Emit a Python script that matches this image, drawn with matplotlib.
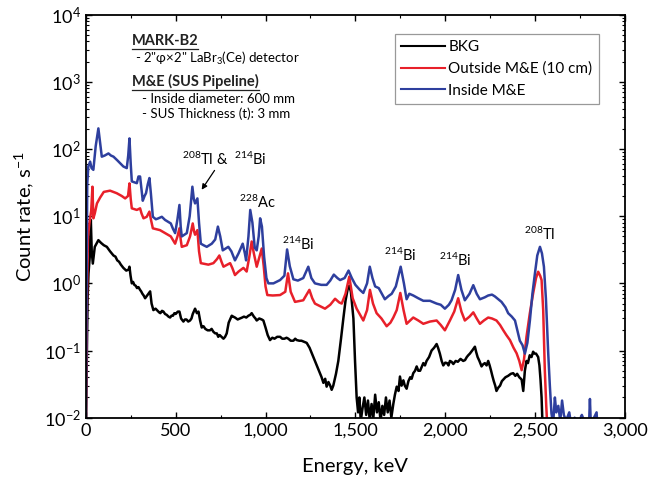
import matplotlib
matplotlib.use("Agg")
import matplotlib.pyplot as plt
from matplotlib.lines import Line2D
from matplotlib.patches import FancyArrowPatch
from matplotlib.ticker import MultipleLocator, LogLocator, NullFormatter

# ----------------------------
# Style
# ----------------------------
FONT = ["Lato", "DejaVu Sans"]
plt.rcParams["font.family"] = FONT
plt.rcParams["mathtext.fontset"] = "custom"
plt.rcParams["mathtext.rm"] = "Lato"
plt.rcParams["mathtext.it"] = "Lato:italic"
plt.rcParams["mathtext.bf"] = "Lato:bold"

C_BKG = "black"
C_OUT = "#e8202a"
C_IN = "#2e3f9e"

# ----------------------------
# Data
# ----------------------------
bkg_e = [0, 5, 10, 15, 22, 28, 33, 39, 50, 70, 85, 100, 117, 135, 154, 165, 175, 185, 195, 209,
         225, 238, 243, 249, 256, 263, 270, 278, 285, 293, 302, 308, 315, 322, 330, 338, 345, 358,
         366, 376, 388, 400, 408, 415, 424, 432, 441, 450, 460, 469, 477, 485, 493, 500, 512, 521,
         530, 543, 552, 560, 570, 580, 588, 595, 608, 618, 627, 636, 645, 655, 665, 678, 691, 700,
         710, 720, 729, 737, 745, 755, 766, 775, 784, 795, 805, 812, 820, 830, 845, 858, 870, 880,
         893, 905, 915, 923, 935, 944, 951, 965, 979, 988, 1000, 1012, 1025, 1038, 1050, 1065,
         1081, 1093, 1105, 1117, 1127, 1140, 1155, 1165, 1174, 1188, 1200, 1215, 1229, 1245, 1266,
         1285, 1303, 1312, 1322, 1332, 1340, 1350, 1360, 1368, 1377, 1392, 1405, 1420, 1433, 1445,
         1458, 1466, 1475, 1489, 1498, 1507, 1515, 1522, 1530, 1540, 1550, 1560, 1570, 1580, 1590,
         1600, 1610, 1620, 1630, 1640, 1650, 1660, 1670, 1680, 1690, 1700, 1711, 1720, 1730, 1740,
         1748, 1757, 1767, 1775, 1785, 1795, 1805, 1813, 1822, 1832, 1841, 1850, 1860, 1870, 1878,
         1887, 1896, 1910, 1924, 1938, 1952, 1960, 1970, 1980, 1989, 2000, 2010, 2018, 2026, 2035,
         2045, 2058, 2070, 2085, 2100, 2110, 2120, 2128, 2137, 2150, 2165, 2172, 2180, 2190, 2202,
         2210, 2220, 2230, 2239, 2247, 2255, 2262, 2270, 2278, 2285, 2295, 2305, 2315, 2323, 2335,
         2350, 2365, 2378, 2390, 2400, 2412, 2425, 2434, 2443, 2452, 2460, 2470, 2480, 2489, 2497,
         2505, 2511, 2517, 2524, 2530, 2536, 2541]
bkg_v = [0.005, 0.05, 0.6, 1.41, 2.5, 8.8, 3.0, 1.97, 3.5, 4.4, 4.0, 3.7, 3.5, 3.0, 2.6, 2.5, 2.2,
         2.1, 1.9, 1.7, 1.55, 1.6, 1.77, 1.3, 1.0, 1.05, 0.95, 0.92, 0.85, 0.88, 0.8, 0.76, 0.7,
         0.66, 0.6, 0.64, 0.68, 0.76, 0.5, 0.4, 0.42, 0.39, 0.37, 0.36, 0.39, 0.38, 0.35, 0.34,
         0.32, 0.31, 0.33, 0.33, 0.36, 0.35, 0.38, 0.38, 0.3, 0.27, 0.29, 0.29, 0.27, 0.28, 0.3,
         0.35, 0.42, 0.36, 0.38, 0.28, 0.22, 0.23, 0.21, 0.2, 0.2, 0.21, 0.19, 0.18, 0.18, 0.16,
         0.17, 0.16, 0.15, 0.16, 0.18, 0.26, 0.3, 0.33, 0.32, 0.31, 0.29, 0.3, 0.31, 0.32, 0.31,
         0.33, 0.34, 0.36, 0.32, 0.3, 0.28, 0.3, 0.29, 0.28, 0.22, 0.17, 0.143, 0.155, 0.15, 0.16,
         0.16, 0.15, 0.15, 0.155, 0.15, 0.14, 0.14, 0.15, 0.143, 0.14, 0.14, 0.135, 0.13, 0.11,
         0.08, 0.06, 0.046, 0.04, 0.033, 0.038, 0.029, 0.034, 0.03, 0.026, 0.03, 0.045, 0.07, 0.15,
         0.3, 0.55, 0.85, 0.92, 0.75, 0.3, 0.07, 0.02, 0.012, 0.02, 0.009, 0.014, 0.02, 0.011,
         0.018, 0.009, 0.016, 0.01, 0.022, 0.012, 0.017, 0.009, 0.015, 0.011, 0.02, 0.012, 0.018,
         0.01, 0.016, 0.022, 0.029, 0.025, 0.041, 0.03, 0.036, 0.03, 0.027, 0.035, 0.04, 0.038,
         0.046, 0.05, 0.058, 0.05, 0.05, 0.058, 0.065, 0.06, 0.07, 0.08, 0.1, 0.11, 0.125, 0.11,
         0.09, 0.07, 0.06, 0.066, 0.065, 0.06, 0.07, 0.068, 0.063, 0.07, 0.068, 0.075, 0.07, 0.072,
         0.08, 0.085, 0.09, 0.1, 0.114, 0.095, 0.08, 0.07, 0.058, 0.062, 0.065, 0.06, 0.07, 0.06,
         0.05, 0.042, 0.035, 0.03, 0.025, 0.028, 0.03, 0.035, 0.037, 0.04, 0.042, 0.045, 0.046,
         0.042, 0.045, 0.04, 0.037, 0.025, 0.05, 0.07, 0.065, 0.085, 0.08, 0.096, 0.09, 0.09, 0.085,
         0.08, 0.06, 0.037, 0.02, 0.008]

out_e = [0, 6, 12, 20, 30, 37, 42, 50, 62, 80, 100, 135, 172, 200, 219, 235, 243, 250, 256, 284,
         302, 310, 321, 339, 354, 362, 373, 413, 441, 473, 485, 497, 510, 521, 528, 534, 562, 580,
         595, 602, 608, 621, 630, 640, 682, 710, 730, 743, 755, 766, 803, 815, 830, 850, 877, 895,
         910, 923, 935, 951, 965, 979, 990, 1000, 1010, 1040, 1081, 1110, 1125, 1140, 1164, 1210,
         1244, 1260, 1275, 1331, 1360, 1387, 1410, 1424, 1445, 1466, 1485, 1507, 1544, 1565, 1581,
         1598, 1618, 1645, 1674, 1695, 1711, 1730, 1750, 1768, 1785, 1822, 1850, 1878, 1915, 1952,
         1975, 1998, 2026, 2050, 2072, 2090, 2109, 2135, 2156, 2175, 2193, 2215, 2239, 2260, 2285,
         2305, 2323, 2340, 2360, 2380, 2397, 2412, 2425, 2438, 2452, 2470, 2489, 2505, 2517, 2528,
         2536, 2545, 2554, 2562, 2567]
out_v = [0.005, 0.5, 5, 7.8, 12, 27.5, 9.3, 11, 15.5, 19, 23, 24, 22, 20, 18.4, 20, 30.8, 18, 13.1,
         12.4, 13.1, 11, 9.3, 9.8, 11.7, 9, 6.6, 6.2, 5.6, 5.0, 4.4, 3.9, 5, 6.6, 4.5, 3.5, 3.7, 5,
         7.8, 6, 5.3, 6.2, 3, 2.0, 1.9, 2.0, 2.3, 2.6, 2.1, 1.77, 2.0, 1.7, 1.33, 1.5, 1.7, 1.5,
         2.5, 4.2, 2.8, 1.77, 2.4, 3.3, 1.8, 0.9, 0.67, 0.66, 0.67, 0.75, 1.41, 0.75, 0.53, 0.56,
         0.8, 0.6, 0.5, 0.42, 0.48, 0.59, 0.52, 0.5, 0.7, 1.26, 0.6, 0.42, 0.28, 0.4, 0.8, 0.5,
         0.36, 0.3, 0.23, 0.26, 0.31, 0.4, 0.72, 0.4, 0.25, 0.31, 0.28, 0.25, 0.27, 0.28, 0.24,
         0.2, 0.28, 0.38, 0.6, 0.38, 0.28, 0.32, 0.37, 0.3, 0.25, 0.28, 0.31, 0.3, 0.28, 0.24,
         0.2, 0.17, 0.143, 0.11, 0.091, 0.07, 0.051, 0.073, 0.16, 0.35, 0.71, 1.2, 1.49, 1.3,
         1.12, 0.4, 0.051, 0.015, 0.008]

in_e = [0, 4, 8, 14, 24, 32, 42, 55, 70, 80, 89, 105, 126, 140, 154, 175, 195, 209, 228, 236,
        243, 250, 256, 270, 284, 293, 302, 310, 317, 327, 335, 345, 354, 362, 373, 390, 404, 423,
        441, 460, 473, 485, 497, 510, 521, 528, 534, 548, 562, 578, 593, 601, 608, 621, 630, 640,
        655, 673, 701, 720, 735, 748, 762, 793, 810, 830, 850, 873, 885, 892, 905, 915, 927, 940,
        951, 962, 970, 980, 992, 1005, 1016, 1044, 1081, 1105, 1120, 1135, 1155, 1180, 1210, 1238,
        1255, 1275, 1310, 1340, 1360, 1380, 1400, 1415, 1440, 1462, 1480, 1500, 1525, 1544, 1565,
        1580, 1595, 1610, 1630, 1664, 1685, 1702, 1725, 1752, 1770, 1785, 1800, 1822, 1850, 1878,
        1915, 1952, 1975, 1998, 2020, 2035, 2055, 2072, 2090, 2109, 2135, 2156, 2175, 2193, 2220,
        2239, 2260, 2276, 2295, 2313, 2335, 2350, 2370, 2388, 2405, 2415, 2430, 2443, 2457, 2471,
        2485, 2499, 2512, 2527, 2538, 2549, 2560, 2573, 2582, 2591, 2600, 2610, 2618, 2629, 2640,
        2650, 2660, 2672, 2690, 2700, 2720, 2740, 2760, 2780, 2800, 2805, 2810, 2842, 2850]
in_v = [0.005, 0.5, 30, 55, 65, 52, 49, 110, 203, 120, 77, 80, 86, 80, 77, 68, 60, 55, 52, 80,
        144, 60, 33, 32, 31, 39, 39, 25, 17, 20, 22, 30, 37, 22, 9.8, 9.0, 9.3, 9.8, 8.8, 8.2,
        7.8, 6.5, 5.6, 9, 14.7, 7, 5.0, 5.3, 5.6, 10, 27.5, 18, 15.5, 18.4, 8, 3.9, 3.7, 3.5,
        3.9, 4.5, 7.0, 5, 3.1, 3.5, 3.0, 2.2, 2.8, 3.9, 2.8, 2.2, 5, 12.4, 8, 3.4, 3.1, 5, 9.3,
        7, 2.5, 1.2, 1.0, 1.0, 1.12, 1.3, 3.2, 1.8, 1.15, 1.1, 1.2, 1.77, 1.2, 1.0, 0.95, 0.95,
        1.1, 1.35, 1.2, 1.12, 1.2, 1.55, 1.2, 0.95, 0.8, 0.72, 1.0, 1.77, 1.2, 0.9, 0.85, 0.58,
        0.65, 0.7, 0.9, 1.77, 1.0, 0.58, 0.7, 0.66, 0.6, 0.55, 0.55, 0.5, 0.48, 0.42, 0.48, 0.56,
        0.8, 1.33, 0.8, 0.56, 0.7, 0.94, 0.7, 0.58, 0.62, 0.66, 0.68, 0.64, 0.58, 0.53, 0.44,
        0.36, 0.32, 0.28, 0.18, 0.14, 0.12, 0.09, 0.13, 0.28, 0.7, 1.41, 2.6, 3.5, 2.8, 1.77,
        0.6, 0.09, 0.03, 0.0116, 0.008, 0.02, 0.012, 0.015, 0.009, 0.018, 0.011, 0.009, 0.012,
        0.008, 0.01, 0.008, 0.011, 0.008, 0.008, 0.019, 0.008, 0.012, 0.005]

series_labels = ["BKG", "Outside M&E (10 cm)", "Inside M&E"]

x_ticks = [0, 500, 1000, 1500, 2000, 2500, 3000]
x_ticklabels = ["0", "500", "1,000", "1,500", "2,000", "2,500", "3,000"]
y_ticks = [1e-2, 1e-1, 1e0, 1e1, 1e2, 1e3, 1e4]
y_ticklabels = [r"10$^{-2}$", r"10$^{-1}$", r"10$^{0}$", r"10$^{1}$",
                r"10$^{2}$", r"10$^{3}$", r"10$^{4}$"]

# peak labels: (text, energy, count rate)
peak_labels = [
    (r"$^{208}$Tl &  $^{214}$Bi", 772, 71),
    (r"$^{228}$Ac", 955, 16.3),
    (r"$^{214}$Bi", 1183, 3.86),
    (r"$^{214}$Bi", 1748, 2.65),
    (r"$^{214}$Bi", 2054, 2.23),
    (r"$^{208}$Tl", 2527, 5.43),
]

# ----------------------------
# Figure
# ----------------------------
fig = plt.figure(figsize=(6.5, 4.84), dpi=100)
ax = fig.add_axes([0.132, 0.137, 0.8295, 0.8326])

lw = 1.8
ax.plot(bkg_e, bkg_v, color=C_BKG, lw=lw, label=series_labels[0])
ax.plot(out_e, out_v, color=C_OUT, lw=lw, label=series_labels[1])
ax.plot(in_e, in_v, color=C_IN, lw=lw, label=series_labels[2])

ax.set_yscale("log")
ax.set_xlim(0, 3000)
ax.set_ylim(1e-2, 1e4)

ax.set_xticks(x_ticks)
ax.set_xticklabels(x_ticklabels)
ax.xaxis.set_minor_locator(MultipleLocator(250))
ax.set_yticks(y_ticks)
ax.set_yticklabels(y_ticklabels)
ax.yaxis.set_minor_locator(LogLocator(base=10, subs=range(2, 10), numticks=20))
ax.yaxis.set_minor_formatter(NullFormatter())

ax.tick_params(which="both", direction="in", top=True, right=True, labelsize=13)
ax.tick_params(which="major", length=4.5, width=1)
ax.tick_params(which="minor", length=2.5, width=0.8)
for s in ax.spines.values():
    s.set_linewidth(1.3)

ax.set_xlabel("Energy, keV", fontsize=14.5, labelpad=14)
ax.set_ylabel(r"Count rate, s$^{-1}$", fontsize=14.5, labelpad=6)

leg = ax.legend(loc="upper left", bbox_to_anchor=(0.5735, 0.952), borderaxespad=0,
                fontsize=11, frameon=True, fancybox=False, edgecolor="#808080",
                handlelength=2.9, handletextpad=0.2, labelspacing=0.5, borderpad=0.4)
leg.get_frame().set_linewidth(0.9)
for h in leg.get_lines():
    h.set_linewidth(1.5)

# peak labels
for txt, e, v in peak_labels:
    ax.text(e, v, txt, ha="center", va="center", fontsize=10.5)
ax.add_patch(FancyArrowPatch((725, 52), (636, 22.9), arrowstyle="-|>",
                             mutation_scale=8, color="black", lw=0.9))

# info block, top left
t1 = ax.text(0.0853, 0.934, "MARK-B2", transform=ax.transAxes, fontsize=10.5,
             fontweight="bold", ha="left", va="center", color="#222222")
ax.text(0.0914, 0.892, "- 2\"φ×2\" LaBr$_3$(Ce) detector", transform=ax.transAxes,
        fontsize=9.5, ha="left", va="center", family=FONT)
t2 = ax.text(0.0853, 0.834, "M&E (SUS Pipeline)", transform=ax.transAxes, fontsize=10.5,
             fontweight="bold", ha="left", va="center", color="#222222")
ax.text(0.1038, 0.791, "- Inside diameter: 600 mm", transform=ax.transAxes,
        fontsize=9.5, ha="left", va="center")
ax.text(0.1038, 0.755, "- SUS Thickness (t): 3 mm", transform=ax.transAxes,
        fontsize=9.5, ha="left", va="center")

# underline the two headings
fig.canvas.draw()
renderer = fig.canvas.get_renderer()
W, H = fig.get_size_inches() * fig.dpi
for t in (t1, t2):
    bb = t.get_window_extent(renderer)
    yline = (bb.y0 - 1) / H
    fig.add_artist(Line2D([bb.x0 / W, bb.x1 / W], [yline, yline],
                          transform=fig.transFigure, color="#222222", lw=0.9))

fig.savefig("out.png", dpi=100)
